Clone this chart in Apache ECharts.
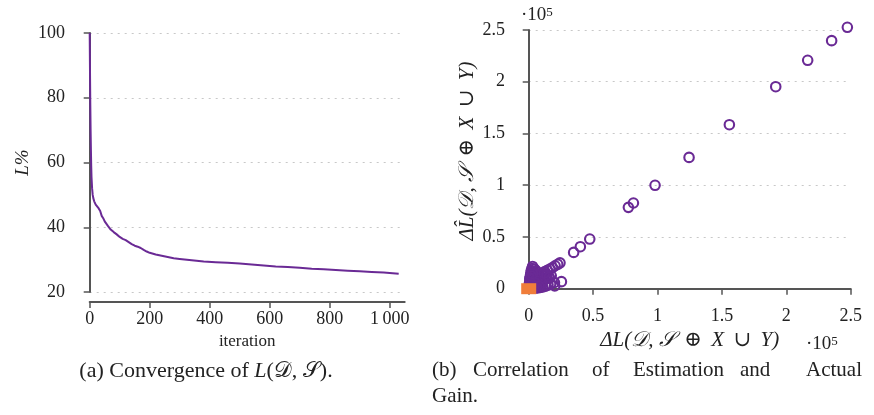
<!DOCTYPE html>
<html>
<head>
<meta charset="utf-8">
<script src="https://cdn.jsdelivr.net/npm/echarts@6/dist/echarts.min.js"></script>
<style>
html,body{margin:0;padding:0;background:#fff;}
#chart{width:874px;height:415px;}
</style>
</head>
<body>
<div id="chart"></div>
<script>
// ---- Data: (a) convergence ----
const iterations = [0,1,2,3,4,5,6,8,10,12,15,20,25,30,35,40,45,50,60,70,80,90,100,110,120,130,140,150,160,170,180,190,200,220,240,260,280,300,340,380,420,460,500,540,580,620,660,700,740,780,820,860,900,940,980,1030];
const lossPct = [100,88,78,70,64,59,55.5,52,50,49,48,47,46.5,45.8,45,43.5,42.8,41.8,40.5,39.3,38.5,37.8,37,36.4,36,35.4,34.8,34.3,34,33.6,33,32.5,32.1,31.6,31.2,30.8,30.4,30.2,29.8,29.4,29.2,29.0,28.8,28.5,28.2,27.9,27.7,27.5,27.2,27.0,26.8,26.6,26.4,26.2,26.0,25.6];
const xTicksA = [0,200,400,600,800,1000];

// ---- Data: (b) correlation (actual gain vs estimated gain) ----
const gainActual = [247400,235200,216600,191800,155800,124500,98100,81300,77400,47400,40100,34900,25400,20200,
  24300,22500,20500,18500,16500,14500,12500,10500,
  17500,15500,14000,12000,10000,8500,7000,
  20000,17000,15000,13000,11000,9000,7000,5000,
  3000,2500,2000,1800,1500,1200,1000,800,600,500,300,
  4500,6000,5000,7000,4000,6000,8500,3500,5000,3000,6000,4000,2000,8000,10000,11000,9000,13000,7500,9500,
  1500,2500,3500,4500,5500,6500,2000,3000,4000,5000,1000,2000,3000,12000,14000,16000,4000,6000,8000];
const gainEst = [252600,239700,220700,195200,158500,126900,99900,82800,78600,48000,40600,35100,6800,2600,
  25000,23600,22200,20500,19000,17800,16500,15000,
  12500,11500,10000,9000,8000,7000,6000,
  6000,4500,3500,2500,1800,1200,800,500,
  21500,19500,17500,15500,13500,11500,9500,7500,5500,3500,1500,
  19000,17000,15000,14000,12500,11000,12000,9000,7000,5000,3500,2500,1000,4000,5000,10000,9500,14000,10000,13500,
  6000,8000,10000,6500,8500,7500,3000,4500,2000,5500,10000,12500,14500,15000,13000,11000,1500,2000,2500];
const originMarker = [[0,0]];

const purple = '#6a2a95';
const orange = '#f07d3a';
const axisCol = '#555555';
const txtCol = '#222222';
const FONT = '"Liberation Serif","DejaVu Serif",serif';

const scatterData = gainActual.map((v,i)=>[v,gainEst[i]]);
const lineData = iterations.map((v,i)=>[v,lossPct[i]]);

const chart = echarts.init(document.getElementById('chart'));
const axisLine = {show:true,lineStyle:{color:axisCol,width:2}};
const axisTick = {show:true,length:6,lineStyle:{color:axisCol,width:1.5}};
const axisLabel = {color:txtCol,fontFamily:FONT,fontSize:18};
const split = {show:true,lineStyle:{color:'#c8c8c8',type:[2,5],width:1}};
const fmtB = v => String(+(v/1e5).toFixed(2));
const mathName = '\u0394L(\uD835\uDC9F, \uD835\uDCAE \u2009\u2295\u2009 X \u2009\u222A\u2009 Y)';
const mathNameHat = '\u0394L\u0302(\uD835\uDC9F, \uD835\uDCAE \u2009\u2295\u2009 X \u2009\u222A\u2009 Y)';
const cap = (x,y,t)=>({type:'text',x:x,y:y,style:{text:t,fill:txtCol,font:'21px '+FONT,verticalAlign:'middle'}});

chart.setOption({
  animation:false,
  backgroundColor:'#fff',
  grid:[
    {left:89.7,right:469.3,top:33,bottom:123},
    {left:528.7,right:23.3,top:30,bottom:126.3}
  ],
  xAxis:[
    {gridIndex:0,type:'value',min:0,max:1050,interval:200,offset:10,
     axisLine:axisLine,
     axisTick:Object.assign({},axisTick,{customValues:xTicksA}),
     axisLabel:Object.assign({},axisLabel,{margin:8,customValues:xTicksA,
        formatter:v=> v>=1000 ? '1\u2009000' : String(v)}),
     splitLine:{show:false},
     name:'iteration',nameLocation:'middle',nameGap:30,
     nameTextStyle:{color:txtCol,fontFamily:FONT,fontSize:17}},
    {gridIndex:1,type:'value',min:0,max:250000,interval:50000,offset:10.3,
     axisLine:axisLine,axisTick:axisTick,
     axisLabel:Object.assign({},axisLabel,{margin:8,formatter:fmtB}),
     splitLine:{show:false},
     name:mathName,nameLocation:'middle',nameGap:25,
     nameTextStyle:{color:txtCol,fontFamily:FONT,fontSize:21,fontStyle:'italic'}}
  ],
  yAxis:[
    {gridIndex:0,type:'value',min:20,max:100,interval:20,offset:10.7,
     axisLine:axisLine,axisTick:axisTick,
     axisLabel:Object.assign({},axisLabel,{margin:14}),
     splitLine:split,
     name:'L%',nameLocation:'middle',nameGap:47,
     nameTextStyle:{color:txtCol,fontFamily:FONT,fontSize:19,fontStyle:'italic'}},
    {gridIndex:1,type:'value',min:0,max:250000,interval:50000,offset:9.7,
     axisLine:axisLine,axisTick:axisTick,
     axisLabel:Object.assign({},axisLabel,{margin:14,formatter:fmtB}),
     splitLine:split}
  ],
  series:[
    {type:'line',xAxisIndex:0,yAxisIndex:0,data:lineData,showSymbol:false,
     lineStyle:{color:purple,width:2},itemStyle:{color:purple}},
    {type:'scatter',xAxisIndex:1,yAxisIndex:1,data:scatterData,symbol:'circle',symbolSize:9.5,clip:false,
     itemStyle:{color:'rgba(255,255,255,0)',borderColor:purple,borderWidth:2.1,opacity:1}},
    {type:'scatter',xAxisIndex:1,yAxisIndex:1,data:originMarker,symbol:'rect',symbolSize:[15,11],z:5,clip:false,
     itemStyle:{color:orange,opacity:1}}
  ],
  graphic:[
    {type:'text',x:467,y:151,rotation:Math.PI/2,
     style:{text:mathNameHat,fill:txtCol,font:'italic 21px '+FONT,align:'center',verticalAlign:'middle'}},
    {type:'text',x:521,y:6,style:{rich:{a:{fontFamily:FONT,fontSize:19,fill:txtCol},s:{fontFamily:FONT,fontSize:13,fill:txtCol,verticalAlign:'top'}},text:'{a|\u00B710}{s|5}',fill:txtCol}},
    {type:'text',x:806,y:335,style:{rich:{a:{fontFamily:FONT,fontSize:19,fill:txtCol},s:{fontFamily:FONT,fontSize:13,fill:txtCol,verticalAlign:'top'}},text:'{a|\u00B710}{s|5}',fill:txtCol}},
    {type:'text',x:206,y:371,style:{rich:{r:{fontFamily:FONT,fontSize:22,fill:txtCol},i:{fontFamily:FONT,fontSize:22,fontStyle:'italic',fill:txtCol}},
      text:'{r|(a) Convergence of }{i|L}{r|(\uD835\uDC9F, \uD835\uDCAE).}',align:'center',verticalAlign:'middle'}},
    cap(432,370,'(b)'),
    cap(473,370,'Correlation'),
    cap(592,370,'of'),
    cap(633,370,'Estimation'),
    cap(740,370,'and'),
    cap(806,370,'Actual'),
    cap(432,396,'Gain.')
  ]
});
</script>
</body>
</html>
